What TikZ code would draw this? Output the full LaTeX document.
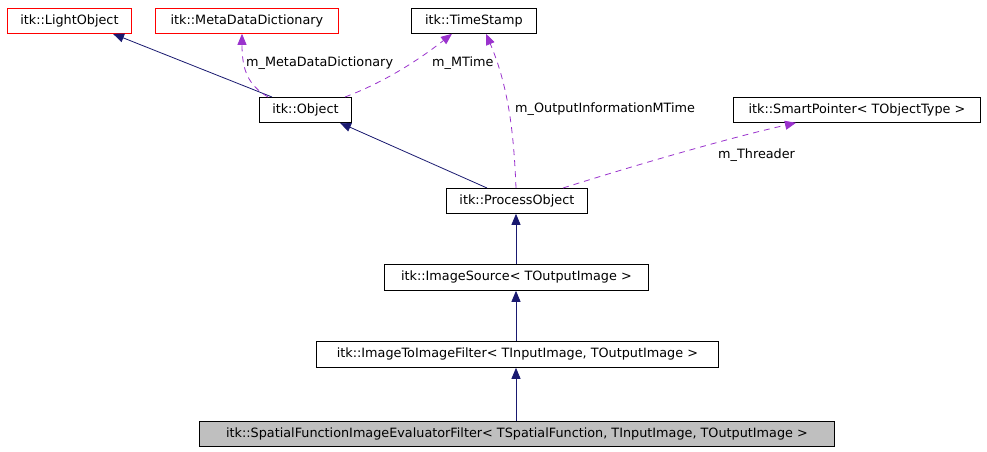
\documentclass[tikz,border=0pt]{standalone}
\usepackage{fontspec}
\setmainfont{DejaVu Sans}
\usetikzlibrary{arrows.meta}
\definecolor{navy}{HTML}{191970}
\definecolor{orchid}{HTML}{9A32CD}
\definecolor{boxgray}{HTML}{BFBFBF}
\begin{document}
\begin{tikzpicture}[x=1pt,y=-1pt,
  box/.style={draw=black,line width=0.8pt,inner sep=0pt,anchor=north west,font=\fontsize{12.8}{14}\selectfont},
  redbox/.style={box,draw=red},
  inh/.style={draw=navy,line width=0.8pt,-{Triangle[length=11pt,width=9pt]}},
  use/.style={draw=orchid,line width=0.8pt,dash pattern=on 6pt off 5pt,-{Triangle[length=11pt,width=9pt]}},
  lbl/.style={font=\fontsize{12.8}{14}\selectfont,inner sep=0pt}]
\useasboundingbox[fill=white] (0,0) rectangle (987,451);
\newcommand{\bx}[6]{\node[#1,minimum width=#4pt,minimum height=#5pt] (#2) at (#3) {#6};}
\bx{redbox}{light}{7,8}{124}{25}{itk::LightObject}
\bx{redbox}{mdd}{155,8}{183}{25}{itk::MetaDataDictionary}
\bx{box}{ts}{411,8}{125}{25}{itk::TimeStamp}
\bx{box}{obj}{259,97}{92}{25}{itk::Object}
\bx{box}{sp}{733,97}{247}{25}{itk::SmartPointer< TObjectType >}
\bx{box}{po}{446,188}{141}{25}{itk::ProcessObject}
\bx{box}{is}{384,264}{264}{26}{itk::ImageSource< TOutputImage >}
\bx{box}{itif}{316,341}{402}{26}{itk::ImageToImageFilter< TInputImage, TOutputImage >}
\bx{box,fill=boxgray}{sf}{199,421}{635}{25}{itk::SpatialFunctionImageEvaluatorFilter< TSpatialFunction, TInputImage, TOutputImage >}
% inheritance
\draw[inh] (obj.north west -| 272,0) -- (light.south west -| 113,0);
\draw[inh] (po.north west -| 487,0) -- (obj.south west -| 340,0);
\draw[inh] (is.north west -| 516,0) -- (po.south west -| 516,0);
\draw[inh] (itif.north west -| 516,0) -- (is.south west -| 516,0);
\draw[inh] (sf.north west -| 516,0) -- (itif.south west -| 516,0);
% usage
\draw[use] (obj.north west -| 268,0) .. controls (248,85) and (242,70) .. (mdd.south west -| 242,0);
\draw[use] (obj.north west -| 345,0) .. controls (390,80) and (425,55) .. (ts.south west -| 452,0);
\draw[use] (po.north west -| 516,0) .. controls (514,140) and (510,90) .. (ts.south west -| 486,0);
\draw[use] (po.north west -| 563,0) .. controls (620,170) and (720,140) .. (sp.south west -| 796,0);
\node[lbl,anchor=west] (l1) at (246,63) {m\_MetaDataDictionary};
\node[lbl,anchor=west] (l2) at (432,63) {m\_MTime};
\node[lbl,anchor=west] (l3) at (515,109) {m\_OutputInformationMTime};
\node[lbl,anchor=west] (l4) at (718,155) {m\_Threader};
\end{tikzpicture}
\end{document}
